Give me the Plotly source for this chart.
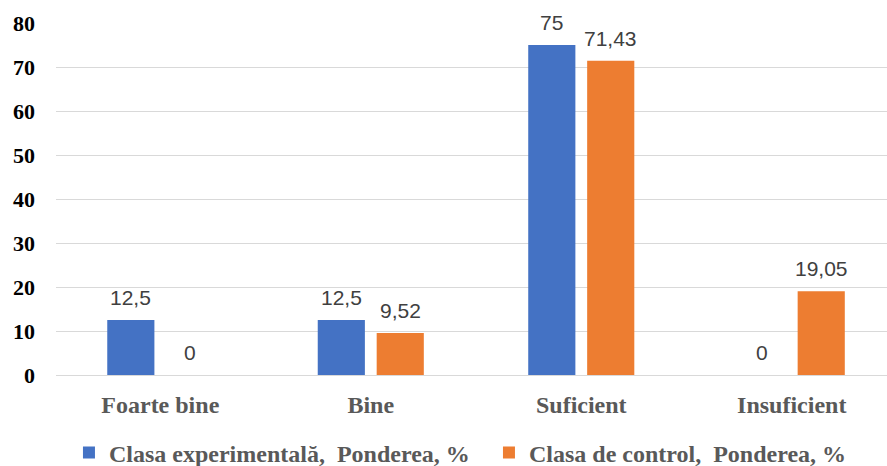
import plotly.graph_objects as go

categories = ["Foarte bine", "Bine", "Suficient", "Insuficient"]
experimental = [12.5, 12.5, 75, 0]
control = [0, 9.52, 71.43, 19.05]
series_names = ["Clasa experimentală,  Ponderea, %", "Clasa de control,  Ponderea, %"]
y_ticks = [0, 10, 20, 30, 40, 50, 60, 70, 80]


def fmt(v):
    return f"{v:g}".replace(".", ",")


serif = "Liberation Serif, Times New Roman, serif"
label_font = dict(family="Liberation Sans, Arial, sans-serif", size=21, color="#404040")

fig = go.Figure()
colors = ["#4472C4", "#ED7D31"]
entry_widths = [375, None]
for name, vals, color, lw in zip(series_names, [experimental, control], colors, entry_widths):
    fig.add_trace(go.Bar(
        x=categories, y=vals, name=name,
        marker=dict(color=color, line=dict(width=0)),
        legendwidth=lw,
    ))

# value labels above each bar (offset to the left/right bar of each group)
for vals, shift in [(experimental, -29.5), (control, 29.5)]:
    for cat, v in zip(categories, vals):
        fig.add_annotation(x=cat, y=v, text=fmt(v), showarrow=False,
                           xshift=shift, yshift=9, yanchor="bottom",
                           font=label_font)

fig.update_layout(
    width=887, height=466,
    margin=dict(l=56, r=0, t=23, b=91),
    paper_bgcolor="white", plot_bgcolor="white",
    barmode="group", bargap=0.44, bargroupgap=0.2,
    font=dict(family=serif),
    showlegend=True,
    legend=dict(orientation="h", x=0.0156, xanchor="left",
                yref="container", y=0.028, yanchor="middle",
                font=dict(family=serif, size=24, color="#595959", weight="bold"),
                itemwidth=30, traceorder="normal"),
    xaxis=dict(range=[-0.4955, 3.4525], showgrid=False, showline=False, ticks="",
               tickfont=dict(family=serif, size=24, color="#595959", weight="bold"),
               ticklabelstandoff=13),
    yaxis=dict(range=[0, 80], tickvals=y_ticks, showgrid=True, gridcolor="#D9D9D9",
               gridwidth=1, zeroline=True, zerolinecolor="#D9D9D9", zerolinewidth=1,
               showline=False, ticks="",
               tickfont=dict(family=serif, size=22, color="black", weight="bold"),
               ticklabelstandoff=20),
)

fig.write_html("out.html")
